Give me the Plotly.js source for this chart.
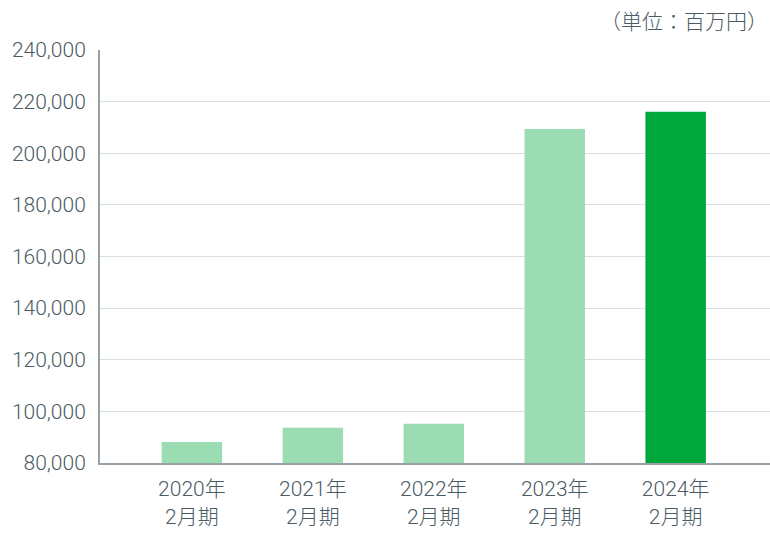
<!DOCTYPE html>
<html>
<head>
<meta charset="utf-8">
<script src="https://cdn.plot.ly/plotly-3.0.1.min.js"></script>
<style>html,body{margin:0;padding:0;background:#fff}#chart{width:770px;height:536px}</style>
</head>
<body>
<div id="chart"></div>
<script>
const categories = ["2020年<br>2月期", "2021年<br>2月期", "2022年<br>2月期", "2023年<br>2月期", "2024年<br>2月期"];
const values = [88100, 93700, 95200, 209400, 216100];
const barColors = ["#9bdcb2", "#9bdcb2", "#9bdcb2", "#9bdcb2", "#00a73c"];
const yTickVals = [80000, 100000, 120000, 140000, 160000, 180000, 200000, 220000, 240000];
const yTickText = ["80,000", "100,000", "120,000", "140,000", "160,000", "180,000", "200,000", "220,000", "240,000"];
const unitLabel = "（単位：百万円）";

const font = "Roboto, 'Noto Sans CJK JP', sans-serif";
const textColor = "#4a5b64";

Plotly.newPlot("chart", [{
  type: "bar",
  x: [0, 1, 2, 3, 4],
  y: values,
  width: 0.5,
  marker: {color: barColors},
  hoverinfo: "skip"
}], {
  width: 770, height: 536,
  margin: {l: 100, r: 0, t: 50, b: 73},
  paper_bgcolor: "#fff", plot_bgcolor: "#fff",
  showlegend: false,
  font: {family: font, size: 21, color: textColor, weight: 300},
  xaxis: {
    range: [-0.76, 4.78],
    tickvals: [0, 1, 2, 3, 4],
    ticktext: categories,
    showgrid: false, zeroline: false,
    showline: true, linecolor: "#98a3a9", linewidth: 2,
    ticks: "", ticklabelstandoff: 6,
    tickfont: {family: font, size: 21, color: textColor, weight: 300}
  },
  yaxis: {
    range: [80000, 240000],
    tickvals: yTickVals,
    ticktext: yTickText,
    showgrid: true, gridcolor: "#d9dee0", gridwidth: 1,
    zeroline: false,
    showline: true, linecolor: "#98a3a9", linewidth: 2,
    ticks: "", ticklabelstandoff: 8,
    tickfont: {family: font, size: 21, color: textColor, weight: 300}
  },
  annotations: [{
    text: unitLabel, xref: "paper", yref: "paper",
    x: 1, y: 1, xanchor: "right", yanchor: "bottom", yshift: 14,
    showarrow: false,
    font: {family: font, size: 21, color: textColor, weight: 300}
  }]
}, {displayModeBar: false, staticPlot: true});
</script>
</body>
</html>
